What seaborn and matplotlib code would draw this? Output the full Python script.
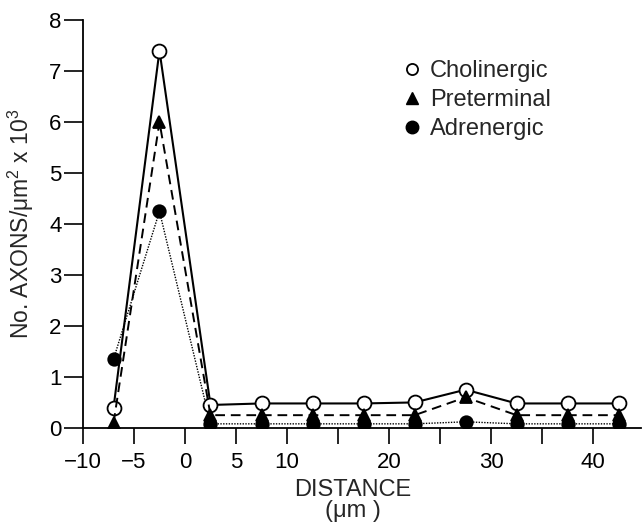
import matplotlib
matplotlib.use('Agg')
import matplotlib.pyplot as plt
from matplotlib.lines import Line2D
import numpy as np
import pandas as pd
import seaborn as sns

distance = [-7, -2.5, 2.5, 7.5, 12.5, 17.5, 22.5, 27.5, 32.5, 37.5, 42.5]
cholinergic = [0.4, 7.4, 0.45, 0.48, 0.48, 0.48, 0.5, 0.75, 0.48, 0.48, 0.48]
preterminal = [0.1, 6.0, 0.25, 0.25, 0.25, 0.25, 0.25, 0.6, 0.25, 0.25, 0.25]
adrenergic = [1.35, 4.25, 0.08, 0.08, 0.08, 0.08, 0.08, 0.12, 0.08, 0.08, 0.08]

series_names = ['Cholinergic', 'Preterminal', 'Adrenergic']
x_tick_labels = ['\u221210', '\u22125', '0', '5', '10', '', '20', '', '30', '', '40']

sns.set_theme(style='ticks')
plt.rcParams['font.family'] = ['Liberation Sans', 'DejaVu Sans']
plt.rcParams['mathtext.default'] = 'regular'

df = pd.DataFrame({
    'distance': distance * 3,
    'value': cholinergic + preterminal + adrenergic,
    'series': np.repeat(series_names, len(distance)),
})

styles = {
    'Cholinergic': dict(ls='-', lw=1.5, marker='o', ms=10, mfc='white', zorder=3),
    'Preterminal': dict(ls=(0, (5, 3)), lw=1.4, marker='^', ms=9, mfc='black', zorder=4),
    'Adrenergic': dict(ls=(0, (1, 1)), lw=1.0, marker='o', ms=9, mfc='black', zorder=2),
}

fig = plt.figure(figsize=(6.43, 5.27), dpi=100)
ax = fig.add_axes([0.129, 0.188, 0.868, 0.774])

for name in series_names:
    st = styles[name]
    sub = df[df['series'] == name]
    sns.lineplot(data=sub, x='distance', y='value', ax=ax, color='black',
                 linestyle=st['ls'], linewidth=st['lw'], marker=st['marker'],
                 markersize=st['ms'], markerfacecolor=st['mfc'],
                 markeredgecolor='black', markeredgewidth=1.3,
                 zorder=st['zorder'], legend=False)

ax.set_xlim(-10, 44.7)
ax.set_ylim(0, 8)
ax.set_xticks(np.arange(-10, 45, 5))
ax.set_xticklabels(x_tick_labels)
ax.set_yticks(range(0, 9))
ax.tick_params(axis='both', direction='out', width=1.2,
               labelsize=16, color='black', labelcolor='black')
ax.tick_params(axis='y', length=13.5, pad=2)
ax.tick_params(axis='x', length=11.5, pad=6)
sns.despine(ax=ax)
for side in ['left', 'bottom']:
    ax.spines[side].set_linewidth(1.3)
    ax.spines[side].set_color('black')

ax.set_xlabel('DISTANCE\n(\u03bcm )', fontsize=17, linespacing=0.95)
ax.xaxis.set_label_coords(0.484, -0.125)
ax.set_ylabel('No. AXONS/\u03bcm$^2$ x 10$^3$', fontsize=16.5)
ax.yaxis.set_label_coords(-0.085, 0.5)

handles = [
    Line2D([], [], ls='none', marker='o', ms=8, mfc='white', mec='black', mew=1.3),
    Line2D([], [], ls='none', marker='^', ms=9, mfc='black', mec='black'),
    Line2D([], [], ls='none', marker='o', ms=9, mfc='black', mec='black'),
]
ax.legend(handles, series_names, loc='upper left', bbox_to_anchor=(0.56, 0.925),
          frameon=False, fontsize=17, handlelength=0.6, handletextpad=0.45,
          labelspacing=0.3, borderaxespad=0)

fig.savefig('out.png', dpi=100)
